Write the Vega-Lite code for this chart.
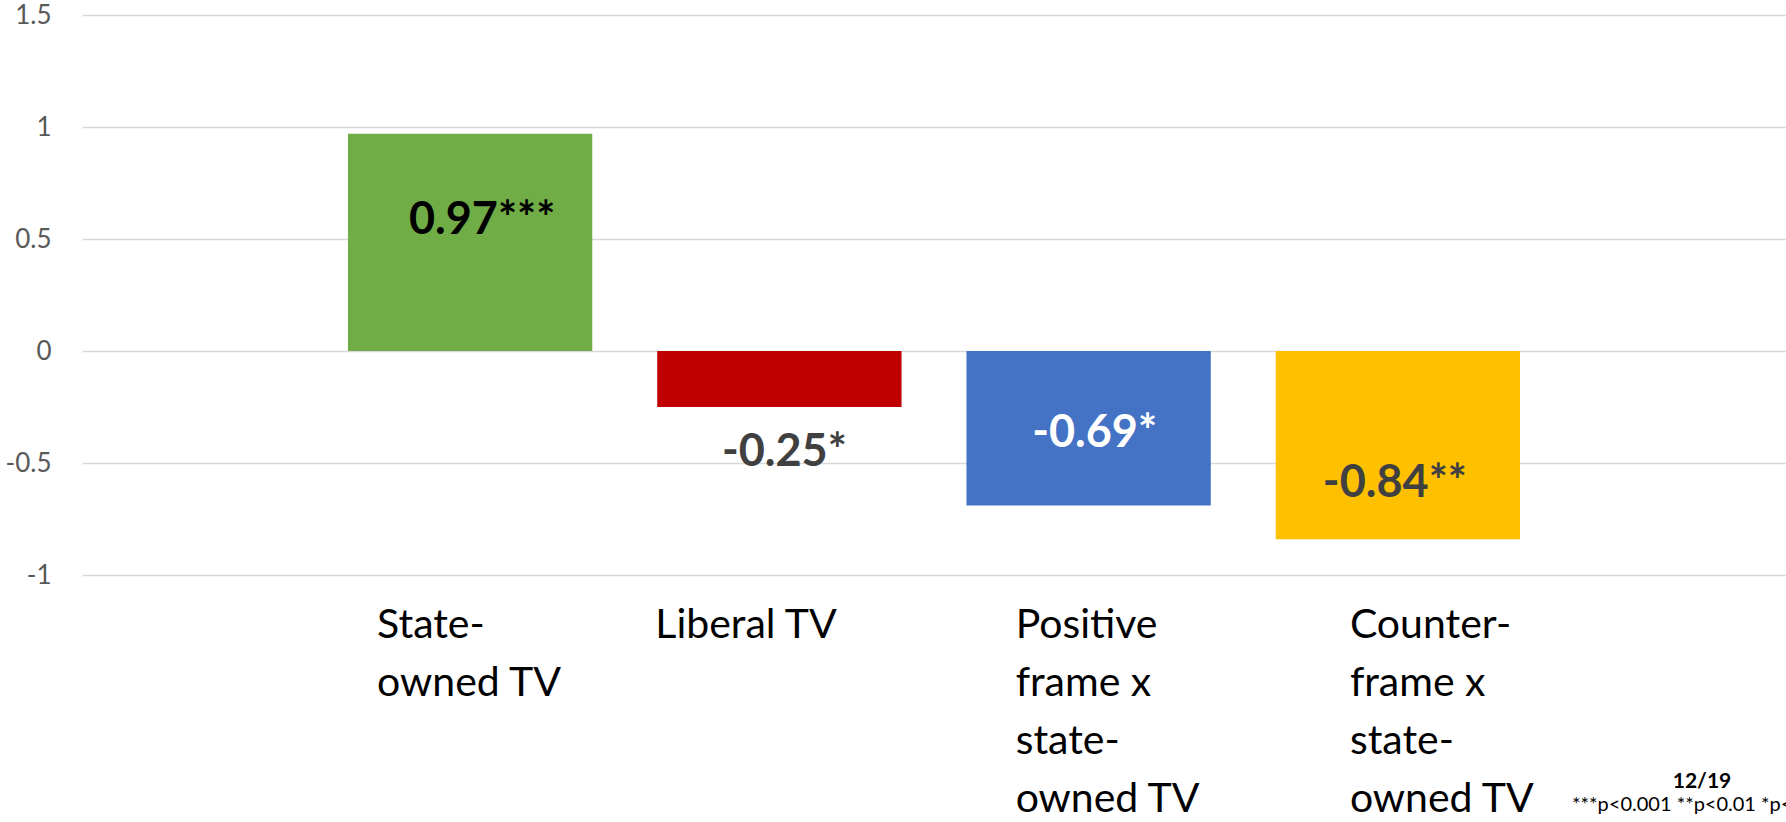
{
  "$schema": "https://vega.github.io/schema/vega-lite/v6.json",
  "width": 1704,
  "height": 560,
  "autosize": {"type": "none"},
  "padding": {"left": 82, "top": 15, "right": 0, "bottom": 247},
  "background": "white",
  "config": {"view": {"stroke": null}, "font": "Lato"},
  "title": {
    "text": "12/19",
    "subtitle": "***p<0.001 **p<0.01 *p<0.05",
    "orient": "bottom",
    "anchor": "end",
    "align": "center",
    "dx": -84,
    "offset": -48,
    "font": "Lato",
    "fontSize": 21,
    "fontWeight": "bold",
    "color": "black",
    "subtitleFont": "Lato",
    "subtitleFontSize": 20,
    "subtitleColor": "black",
    "subtitlePadding": 3
  },
  "data": {
    "values": [
      {"category": "State-owned TV", "coef": 0.97, "label": "0.97***"},
      {"category": "Liberal TV", "coef": -0.25, "label": "-0.25*"},
      {"category": "Positive frame x state-owned TV", "coef": -0.69, "label": "-0.69*"},
      {"category": "Counter-frame x state-owned TV", "coef": -0.84, "label": "-0.84**"}
    ]
  },
  "encoding": {
    "x": {
      "field": "category",
      "type": "nominal",
      "sort": null,
      "scale": {"paddingInner": 0.21, "paddingOuter": 0.86},
      "axis": {
        "title": null,
        "domain": false,
        "ticks": false,
        "grid": false,
        "labelAngle": 0,
        "labelFont": "Lato",
        "labelFontSize": 41,
        "labelColor": "black",
        "labelAlign": "left",
        "labelBaseline": "top",
        "labelLineHeight": 58,
        "labelPadding": 30,
        "labelLimit": 0,
        "labelOffset": {
          "condition": [
            {"test": "datum.value == 'State-owned TV'", "value": -93},
            {"test": "datum.value == 'Liberal TV'", "value": -124},
            {"test": "datum.value == 'Positive frame x state-owned TV'", "value": -73}
          ],
          "value": -48
        },
        "labelExpr": "datum.value == 'State-owned TV' ? ['State-', 'owned TV'] : datum.value == 'Liberal TV' ? ['Liberal TV'] : datum.value == 'Positive frame x state-owned TV' ? ['Positive', 'frame x', 'state-', 'owned TV'] : ['Counter-', 'frame x', 'state-', 'owned TV']"
      }
    },
    "y": {
      "field": "coef",
      "type": "quantitative",
      "scale": {"domain": [-1, 1.5], "nice": false, "zero": false},
      "axis": {
        "title": null,
        "domain": false,
        "ticks": false,
        "values": [-1, -0.5, 0, 0.5, 1, 1.5],
        "labelExpr": "toString(datum.value)",
        "labelFont": "Lato",
        "labelFontSize": 26,
        "labelColor": "#595959",
        "labelPadding": 31,
        "gridColor": "#D9D9D9",
        "gridWidth": 1.5
      }
    }
  },
  "layer": [
    {
      "mark": {"type": "bar"},
      "encoding": {
        "color": {
          "field": "category",
          "type": "nominal",
          "scale": {
            "domain": ["State-owned TV", "Liberal TV", "Positive frame x state-owned TV", "Counter-frame x state-owned TV"],
            "range": ["#70AD47", "#C00000", "#4472C4", "#FFC000"]
          },
          "legend": null
        }
      }
    },
    {
      "transform": [{"filter": "datum.category == 'State-owned TV'"}],
      "mark": {"type": "text", "font": "Lato", "fontSize": 45, "fontWeight": "bold", "color": "black", "baseline": "middle", "align": "center", "dx": 12, "dy": 86},
      "encoding": {"text": {"field": "label"}}
    },
    {
      "transform": [{"filter": "datum.category == 'Liberal TV'"}],
      "mark": {"type": "text", "font": "Lato", "fontSize": 45, "fontWeight": "bold", "color": "#404040", "baseline": "middle", "align": "center", "dx": 5, "dy": 45},
      "encoding": {"text": {"field": "label"}}
    },
    {
      "transform": [{"filter": "datum.category == 'Positive frame x state-owned TV'"}],
      "mark": {"type": "text", "font": "Lato", "fontSize": 45, "fontWeight": "bold", "color": "white", "baseline": "middle", "align": "center", "dx": 6, "dy": -73},
      "encoding": {"text": {"field": "label"}}
    },
    {
      "transform": [{"filter": "datum.category == 'Counter-frame x state-owned TV'"}],
      "mark": {"type": "text", "font": "Lato", "fontSize": 45, "fontWeight": "bold", "color": "#404040", "baseline": "middle", "align": "center", "dx": -3, "dy": -56},
      "encoding": {"text": {"field": "label"}}
    }
  ]
}
